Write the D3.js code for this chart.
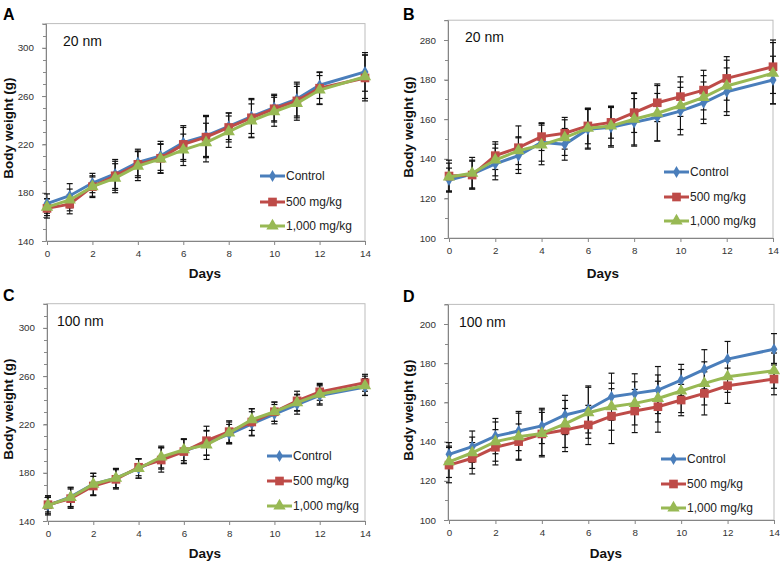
<!DOCTYPE html>
<html><head><meta charset="utf-8">
<script src="https://cdn.jsdelivr.net/npm/d3@7"></script>
<style>body{margin:0;background:#fff}svg{display:block;font-family:Arial,"Liberation Sans",sans-serif}</style>
</head><body><svg id="c" width="780" height="562"></svg>
<script>
// ---- data ----
const days = [0,1,2,3,4,5,6,7,8,9,10,11,12,14];
const seriesNames = ["Control","500 mg/kg","1,000 mg/kg"];
const xTicks = [0,2,4,6,8,10,12,14];

// Panel A (20 nm)
const aControl = [171,177.5,188,195.5,205,210.5,221.5,227,235,243,250.5,257.5,269,280];
const a500     = [167,170.5,185,194,203.5,208.5,220,226,234,242,249.5,256,266.5,275];
const a1000    = [168,174,185,192,202,208,215.5,221.5,230.5,239.5,247,254,265,276];
const aControlSD = [8,10,8,12,11,12,14,17,11,14,11,14,11,16];
const a500SD     = [8,8,8,12,11,12,14,17,12,16,11,14,13,19];
const a1000SD    = [7,9,9,12,12,12,13,16,13,14,12,14,12,18];
const aYTicks = [140,180,220,260,300];
const aYLabels = ["140","180","220","260","300"];

// Panel B (20 nm)
const bControl = [129.3,132.3,137.4,141.6,148.3,147.3,154.9,155.9,158.4,161,164.1,168.3,173.9,179.8];
const b500     = [131.3,131.8,141.6,145.6,151.2,152.9,156.6,158.4,163.3,168.3,171.4,174.7,180.6,186.5];
const b1000    = [130.8,132.7,139.4,144.1,147,150.7,155.4,156.6,160,163,166.8,171,176.8,183.2];
const bControlSD = [6,7,8,9,9.5,8,10,10,12,12,12,10.5,12,12];
const b500SD     = [8,7,7,11,7,8,9,8,10,9.5,10,10,11,13.5];
const b1000SD    = [7,8,8,7,10,9,10,10,13,14,12,11,13,15.5];
const bYTicks = [100,120,140,160,180,200];
const bYLabels = ["100","120","140","160","180","280"];

// Panel C (100 nm)
const cControl = [153,160,170.5,175.5,183.5,192,198,204.5,212,220.5,228.5,236.5,244,251];
const c500     = [153.5,158.5,169,174.5,184.5,190.5,197.5,206.5,214,222,230.5,239.5,247,254.5];
const c1000    = [153,159.5,170.5,175.5,183.5,193,199,203,213,224,230.5,238,245,252];
const cControlSD = [7,8,9,8,8,9,10,10,8,10,8,8,8,7];
const c500SD     = [6,8,8,8,7,10,10,12,9,11,8,8,7,7];
const c1000SD    = [8,8,9,8,8,9,9,12,9,9,8,7,8,8];
const cYTicks = [140,180,220,260,300];
const cYLabels = ["140","180","220","260","300"];

// Panel D (100 nm)
const dControl = [133.5,137.4,142.8,145.4,148,153.6,156.4,162.9,164.6,166.3,171.4,176.9,182.1,187.1];
const d500     = [128,131.5,137.1,140,143.9,145.9,148.5,153,155.6,157.8,161.2,164.6,168.5,171.9];
const d1000    = [129.7,134.3,140,142.5,144.2,149,154.7,157.8,159.5,162,165.8,169.7,173.1,176.2];
const dControlSD = [6,8,9,10,9,10,12,12,10,12,8,10,9,8];
const d500SD     = [9,8,9,9,11,11,10,14,11,13,8,11,9,8];
const d1000SD    = [8,8,10,12,12,12,13,12,11,12,11,11,8,9];
const dYTicks = [100,120,140,160,180,200];
const dYLabels = ["100","120","140","160","180","200"];

// ---- drawing ----
const colors = ["#4a7ebb","#be4b48","#98b954"];
const svg = d3.select("#c");

function panel(cfg){
  const g = svg.append("g");
  const x = d3.scaleLinear().domain([0,14]).range([cfg.x0+1, cfg.x1]);
  const y = d3.scaleLinear().domain(cfg.dom).range([cfg.y1, cfg.y0]);
  g.append("rect").attr("x",cfg.x0).attr("y",cfg.y0).attr("width",cfg.x1-cfg.x0).attr("height",cfg.y1-cfg.y0)
    .attr("fill","none").attr("stroke","#bdbdbd").attr("stroke-width",1);
  const minor = d3.range(cfg.dom[0], cfg.dom[1]+0.01, 10);
  g.selectAll(".mn").data(minor).enter().append("line")
    .attr("x1",cfg.x0-3).attr("x2",cfg.x0).attr("y1",d=>Math.round(y(d))+0.5).attr("y2",d=>Math.round(y(d))+0.5)
    .attr("stroke","#8a8a8a");
  const ya = d3.axisLeft(y).tickValues(cfg.yTicks).tickSize(4).tickPadding(8)
    .tickFormat((d,i)=>cfg.yLabels[i]);
  const yg = g.append("g").attr("transform",`translate(${cfg.x0},0)`).call(ya);
  const xa = d3.axisBottom(x).tickValues(xTicks).tickSize(4).tickPadding(5);
  const xg = g.append("g").attr("transform",`translate(0,${cfg.y1})`).call(xa);
  [yg,xg].forEach(a=>{
    a.select(".domain").attr("stroke","#858585");
    a.selectAll(".tick line").attr("stroke","#858585");
    a.selectAll("text").attr("font-size","9.8px").attr("fill","#333").attr("font-family","Arial, 'Liberation Sans', sans-serif");
  });
  cfg.series.forEach((s,si)=>{
    days.forEach((d,i)=>{
      const cx = x(d), lo=y(s.v[i]-s.sd[i]), hi=y(s.v[i]+s.sd[i]);
      g.append("line").attr("x1",cx).attr("x2",cx).attr("y1",lo).attr("y2",hi).attr("stroke","#111").attr("stroke-width",1);
      [lo,hi].forEach(yy=>g.append("line").attr("x1",cx-3).attr("x2",cx+3).attr("y1",yy).attr("y2",yy).attr("stroke","#111").attr("stroke-width",1.2));
    });
  });
  const line = d3.line().x((d,i)=>x(days[i])).y(d=>y(d));
  const sym = [d3.symbolDiamond, d3.symbolSquare, d3.symbolTriangle];
  const sz = [42, 75, 66];
  cfg.series.forEach((s,si)=>{
    g.append("path").attr("d",line(s.v)).attr("fill","none").attr("stroke",colors[si]).attr("stroke-width",3);
    g.selectAll(".m"+si).data(s.v).enter().append("path")
      .attr("transform",(d,i)=>`translate(${x(days[i])},${y(d)})`)
      .attr("d",d3.symbol().type(sym[si]).size(sz[si])).attr("fill",colors[si]);
  });
  seriesNames.forEach((n,i)=>{
    const ly = cfg.leg.y[i];
    g.append("line").attr("x1",cfg.leg.x).attr("x2",cfg.leg.x+25).attr("y1",ly).attr("y2",ly).attr("stroke",colors[i]).attr("stroke-width",3);
    g.append("path").attr("transform",`translate(${cfg.leg.x+12.5},${ly})`).attr("d",d3.symbol().type(sym[i]).size(sz[i])).attr("fill",colors[i]);
    g.append("text").attr("x",cfg.leg.x+26).attr("y",ly).attr("dy","0.35em").attr("font-size","12px").attr("fill","#222").text(n);
  });
  g.append("text").attr("x",cfg.tag[0]).attr("y",cfg.tag[1]).attr("font-size","14px").attr("fill","#111").text(cfg.tagText);
  g.append("text").attr("x",cfg.days[0]).attr("y",cfg.days[1]).attr("text-anchor","middle").attr("font-size","13.5px").attr("font-weight","bold").attr("fill","#111").text("Days");
  g.append("text").attr("transform",`translate(${cfg.yl[0]},${cfg.yl[1]}) rotate(-90)`).attr("text-anchor","middle").attr("dy","0.35em")
    .attr("font-size","13.5px").attr("font-weight","bold").attr("fill","#111").text("Body weight (g)");
  g.append("text").attr("x",cfg.letter[0]).attr("y",cfg.letter[1]).attr("font-size","16px").attr("font-weight","bold").attr("fill","#000").text(cfg.letterText);
}

panel({x0:46,x1:365,y0:23.6,y1:241,dom:[140,320],yTicks:aYTicks,yLabels:aYLabels,
  series:[{v:aControl,sd:aControlSD},{v:a500,sd:a500SD},{v:a1000,sd:a1000SD}],
  leg:{x:260,y:[176,202,226]},tag:[63,46],tagText:"20 nm",days:[205,278],yl:[8,128],letter:[3,20],letterText:"A"});
panel({x0:448,x1:773,y0:20.2,y1:238,dom:[100,210],yTicks:bYTicks,yLabels:bYLabels,
  series:[{v:bControl,sd:bControlSD},{v:b500,sd:b500SD},{v:b1000,sd:b1000SD}],
  leg:{x:664,y:[172,197,221]},tag:[465,42],tagText:"20 nm",days:[603,278],yl:[408,127],letter:[403,20],letterText:"B"});
panel({x0:47,x1:365,y0:303.7,y1:521,dom:[140,320],yTicks:cYTicks,yLabels:cYLabels,
  series:[{v:cControl,sd:cControlSD},{v:c500,sd:c500SD},{v:c1000,sd:c1000SD}],
  leg:{x:267,y:[456,481,506]},tag:[57,326],tagText:"100 nm",days:[205,558],yl:[8,409],letter:[3,301],letterText:"C"});
panel({x0:448,x1:774,y0:304.4,y1:520,dom:[100,210],yTicks:dYTicks,yLabels:dYLabels,
  series:[{v:dControl,sd:dControlSD},{v:d500,sd:d500SD},{v:d1000,sd:d1000SD}],
  leg:{x:661,y:[459,484,508]},tag:[459,327],tagText:"100 nm",days:[606,558],yl:[408,410],letter:[403,302],letterText:"D"});
</script></body></html>
